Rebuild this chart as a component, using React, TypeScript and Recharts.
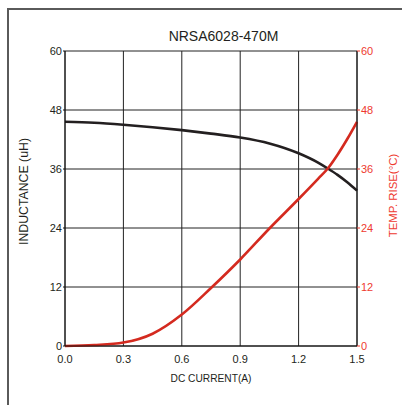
import { LineChart, Line, XAxis, YAxis, CartesianGrid, Label } from "recharts";

const current = [0, 0.15, 0.3, 0.45, 0.6, 0.75, 0.9, 1.05, 1.2, 1.3, 1.35, 1.4, 1.45, 1.5];
const inductance = [45.6, 45.4, 45.0, 44.5, 43.9, 43.2, 42.4, 41.2, 39.2, 37.3, 36.1, 34.8, 33.3, 31.6];
const tempRise = [0, 0.2, 0.7, 2.5, 6.4, 11.8, 17.6, 23.9, 29.9, 34.0, 36.1, 38.9, 42.1, 45.6];

const xTicks = [0, 0.3, 0.6, 0.9, 1.2, 1.5];
const yTicks = [0, 12, 24, 36, 48, 60];

const FONT = "'Liberation Sans', Arial, sans-serif";
const RED_TEXT = "#ee3a2f";
const RED_LINE = "#d42a1f";

export default function App() {
  const data = current.map((c, i) => ({
    current: c,
    inductance: inductance[i],
    temp: tempRise[i],
  }));

  return (
    <div style={{ position: "absolute", left: 0, top: 0, width: 402, height: 405, background: "#fff", fontFamily: FONT }}>
      {/* cropped frame, only top and left edges visible */}
      <div style={{
        position: "absolute", left: 7, top: 8, width: 402, height: 405,
        borderTop: "2px solid #5a5a5a", borderLeft: "2px solid #5a5a5a",
      }} />
      <div style={{
        position: "absolute", left: 0, width: 447, top: 28, textAlign: "center",
        fontSize: 14, lineHeight: "16px", color: "#231f20",
      }}>
        NRSA6028-470M
      </div>
      <div style={{ position: "absolute", left: 0, top: 0 }}>
        <LineChart width={402} height={405} data={data} margin={{ top: 51, right: 0, bottom: 0, left: 0 }}>
          <CartesianGrid yAxisId="L" stroke="#222" strokeWidth={1} />
          <XAxis
            type="number"
            dataKey="current"
            domain={[0, 1.5]}
            ticks={xTicks}
            tickFormatter={(v) => v.toFixed(1)}
            height={59}
            axisLine={{ stroke: "#111" }}
            tickLine={false}
            tickSize={0}
            tickMargin={9}
            tick={{ fill: "#231f20", fontSize: 11, fontFamily: FONT }}
          >
            <Label value="DC CURRENT(A)" position="insideBottom" offset={23} fill="#231f20" fontSize={10.2} fontFamily={FONT} />
          </XAxis>
          <YAxis
            yAxisId="L"
            domain={[0, 60]}
            ticks={yTicks}
            width={65}
            axisLine={{ stroke: "#111" }}
            tickLine={{ stroke: "#111" }}
            tickSize={2}
            tickMargin={1}
            tick={{ fill: "#231f20", fontSize: 11, fontFamily: FONT }}
          >
            <Label value="INDUCTANCE (uH)" position="center" angle={-90} dx={-9} dy={-7} fill="#231f20" fontSize={12.3} fontFamily={FONT} />
          </YAxis>
          <YAxis
            yAxisId="R"
            orientation="right"
            domain={[0, 60]}
            ticks={yTicks}
            width={45}
            axisLine={{ stroke: "#111" }}
            tickLine={{ stroke: RED_TEXT }}
            tickSize={3}
            tickMargin={1}
            tick={{ fill: RED_TEXT, fontSize: 11, fontFamily: FONT }}
          >
            <Label value="TEMP. RISE(°C)" position="center" angle={-90} dx={13} dy={-3} fill={RED_TEXT} fontSize={11.4} fontFamily={FONT} />
          </YAxis>
          <Line yAxisId="L" type="monotone" dataKey="inductance" stroke="#231f20" strokeWidth={2.6} dot={false} isAnimationActive={false} />
          <Line yAxisId="R" type="monotone" dataKey="temp" stroke={RED_LINE} strokeWidth={2.6} dot={false} isAnimationActive={false} />
        </LineChart>
      </div>
    </div>
  );
}
